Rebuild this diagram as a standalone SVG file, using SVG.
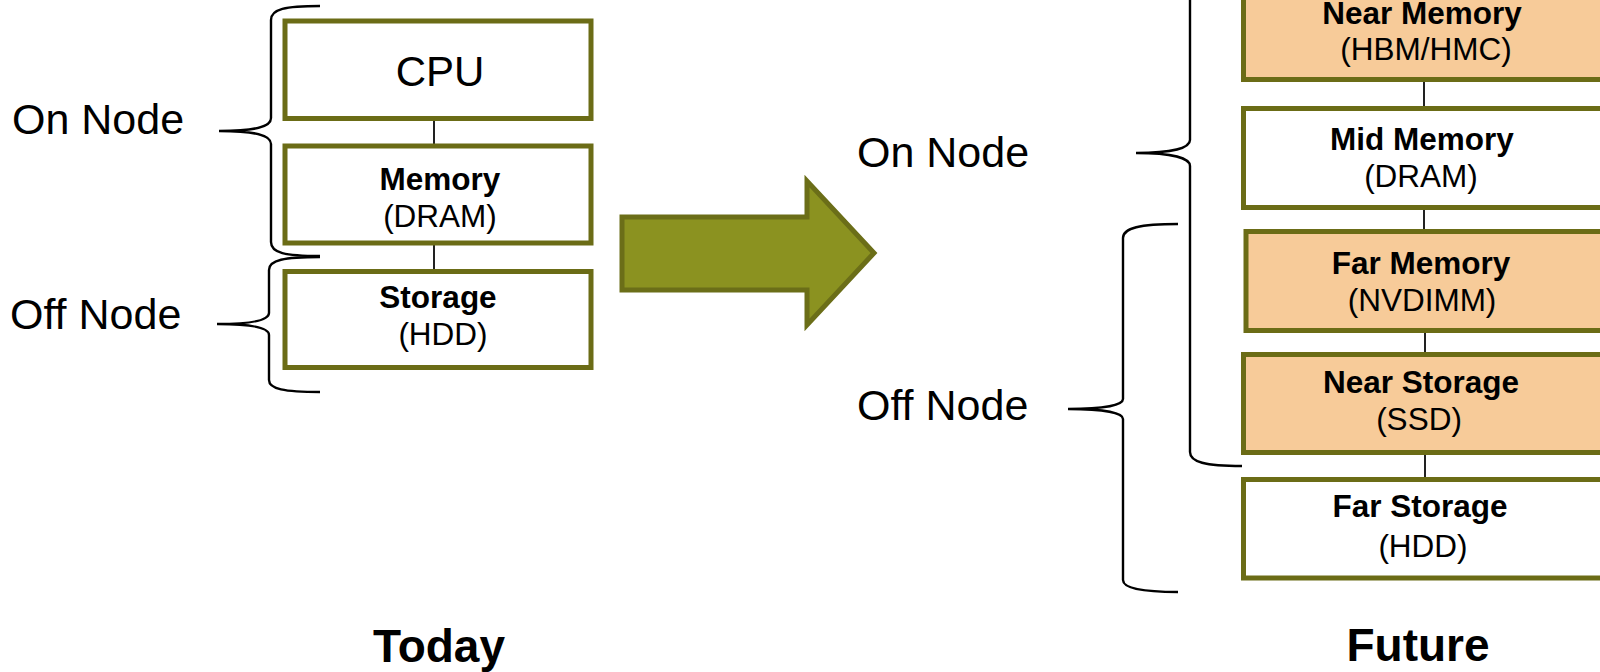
<svg xmlns="http://www.w3.org/2000/svg" width="1600" height="672" viewBox="0 0 1600 672">
<style>
text{font-family:"Liberation Sans",Arial,"DejaVu Sans",sans-serif;fill:#000}
.box{stroke:#6B6C16;stroke-width:5}
.white{fill:#fff}
.peach{fill:#F7CB99}
.b{font-weight:bold;font-size:31.5px}
.r{font-size:31.5px}
.side{font-size:43px}
.title{font-weight:bold;font-size:46px}
.brace{fill:none;stroke:#000;stroke-width:2.4}
.conn{stroke:#222;stroke-width:2}
</style>
<rect width="1600" height="672" fill="#fff"/>
<g id="connectors">
<line class="conn" x1="434" y1="119" x2="434" y2="144"/>
<line class="conn" x1="434" y1="245" x2="434" y2="269"/>
<line class="conn" x1="1424" y1="81" x2="1424" y2="107"/>
<line class="conn" x1="1424" y1="209" x2="1424" y2="230"/>
<line class="conn" x1="1425" y1="332" x2="1425" y2="353"/>
<line class="conn" x1="1425" y1="454" x2="1425" y2="478"/>
</g>
<g id="braces">
<path class="brace" d="M320,6 C285,6 271,9 271,20 L271,118 C271,127 255,131 219,131 C255,131 271,135 271,144 L271,242 C271,253 285,256 320,256"/>
<path class="brace" d="M320,257 C284,257 269,260 269,270 L269,313 C269,320 253,324 217,324 C253,324 269,328 269,335 L269,380 C269,389 284,392 320,392"/>
<path class="brace" d="M1242,-160 C1205,-160 1190,-156 1190,-145 L1190,140 C1190,148 1172,153 1136,153 C1172,153 1190,158 1190,166 L1190,452 C1190,462 1205,466 1242,466"/>
<path class="brace" d="M1178,224 C1140,224 1123,228 1123,238 L1123,399 C1123,405 1105,409 1068,409 C1105,409 1123,413 1123,419 L1123,580 C1123,588 1140,592 1178,592"/>
</g>
<g id="labels">
<text class="side" x="12" y="134">On Node</text>
<text class="side" x="10" y="329">Off Node</text>
<text class="side" x="857" y="167">On Node</text>
<text class="side" x="857" y="420">Off Node</text>
<text class="title" x="439" y="662" text-anchor="middle">Today</text>
<text class="title" x="1418" y="661" text-anchor="middle">Future</text>
</g>
<g id="arrow">
<polygon points="622,217 807,217 807,181 874,253 807,325 807,290 622,290" fill="#8B9220" stroke="#6B6E18" stroke-width="5" stroke-linejoin="miter"/>
</g>
<g id="cpu">
<rect class="box white" x="285" y="21" width="306" height="97.5"/>
<text x="440" y="86" text-anchor="middle" style="font-size:42px">CPU</text>
</g>
<g id="memory">
<rect class="box white" x="285" y="146" width="306" height="97"/>
<text class="b" x="440" y="190" text-anchor="middle">Memory</text>
<text class="r" x="440" y="227" text-anchor="middle">(DRAM)</text>
</g>
<g id="storage">
<rect class="box white" x="285" y="271.5" width="306" height="96"/>
<text class="b" x="438" y="308" text-anchor="middle">Storage</text>
<text class="r" x="443" y="345" text-anchor="middle">(HDD)</text>
</g>
<g id="near-memory">
<rect class="box peach" x="1243.5" y="-19" width="380" height="98.5"/>
<text class="b" x="1422" y="24" text-anchor="middle">Near Memory</text>
<text class="r" x="1426" y="60" text-anchor="middle">(HBM/HMC)</text>
</g>
<g id="mid-memory">
<rect class="box white" x="1243.5" y="108.5" width="380" height="99"/>
<text class="b" x="1422" y="150" text-anchor="middle">Mid Memory</text>
<text class="r" x="1421" y="187" text-anchor="middle">(DRAM)</text>
</g>
<g id="far-memory">
<rect class="box peach" x="1246" y="231.5" width="380" height="99"/>
<text class="b" x="1421" y="274" text-anchor="middle">Far Memory</text>
<text class="r" x="1422" y="311" text-anchor="middle">(NVDIMM)</text>
</g>
<g id="near-storage">
<rect class="box peach" x="1243.5" y="354.5" width="380" height="98"/>
<text class="b" x="1421" y="393" text-anchor="middle">Near Storage</text>
<text class="r" x="1419" y="430" text-anchor="middle">(SSD)</text>
</g>
<g id="far-storage">
<rect class="box white" x="1243.5" y="479.5" width="380" height="98.5"/>
<text class="b" x="1420" y="517" text-anchor="middle">Far Storage</text>
<text class="r" x="1423" y="557" text-anchor="middle">(HDD)</text>
</g>
</svg>
